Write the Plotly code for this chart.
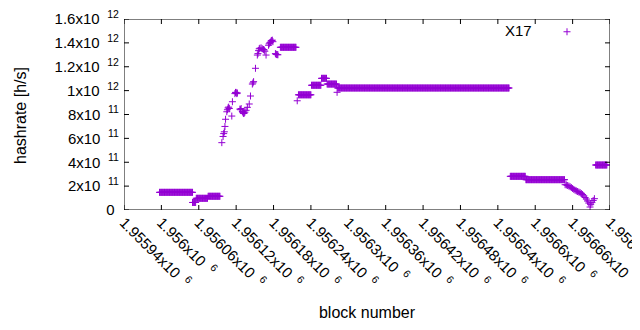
import plotly.graph_objects as go

COLOR = "#9400D3"

# Constant runs of hashrate: first block, last block, hashrate (h/s)
run_start = [1955997, 1956050, 1956056, 1956075, 1956191, 1956220, 1956241, 1956257,
             1956266, 1956283, 1956560, 1956585, 1956697]
run_end = [1956050, 1956055, 1956074, 1956094, 1956216, 1956240, 1956256, 1956265,
           1956281, 1956558, 1956584, 1956647, 1956715]
run_rate = [1.48e11, 6.3e10, 9.8e10, 1.15e11, 1.363e12, 9.65e11, 1.045e12, 1.103e12,
            1.055e12, 1.022e12, 2.82e11, 2.54e11, 3.77e11]

# Individually placed blocks (ramp, isolated points, decline)
pt_block = [1956097, 1956099, 1956100, 1956101, 1956102, 1956103, 1956105, 1956106,
            1956107, 1956108, 1956109, 1956113, 1956114, 1956118, 1956119, 1956120,
            1956121, 1956122, 1956126, 1956127, 1956128, 1956130, 1956131, 1956132,
            1956133, 1956134, 1956136, 1956138, 1956141, 1956143, 1956146, 1956147,
            1956148, 1956151, 1956154, 1956155, 1956156, 1956157, 1956158, 1956160,
            1956162, 1956164, 1956165, 1956166, 1956168, 1956172, 1956173, 1956174,
            1956175, 1956176, 1956177, 1956178, 1956179, 1956183, 1956184, 1956185,
            1956186, 1956187,
            1956218, 1956282,
            1956648, 1956650, 1956652, 1956654, 1956656, 1956658, 1956660, 1956662,
            1956664, 1956666, 1956668, 1956670, 1956672, 1956674, 1956676, 1956678,
            1956680, 1956682, 1956684, 1956686, 1956688, 1956689, 1956691, 1956693,
            1956695]
pt_rate = [5.64e11, 6.16e11, 6.40e11, 6.55e11, 7.00e11, 7.60e11, 8.23e11, 8.40e11,
           8.55e11, 8.62e11, 8.50e11, 7.87e11, 9.07e11, 9.75e11, 9.85e11, 9.85e11,
           9.75e11, 9.80e11, 8.45e11, 8.40e11, 8.50e11, 8.25e11, 8.15e11, 8.08e11,
           8.12e11, 8.20e11, 8.35e11, 8.60e11, 8.88e11, 9.55e11, 1.055e12, 1.065e12,
           1.075e12, 1.187e12, 1.298e12, 1.310e12, 1.335e12, 1.350e12, 1.355e12, 1.358e12,
           1.350e12, 1.345e12, 1.340e12, 1.330e12, 1.298e12, 1.380e12, 1.392e12, 1.400e12,
           1.405e12, 1.415e12, 1.420e12, 1.423e12, 1.410e12, 1.310e12, 1.305e12, 1.302e12,
           1.302e12, 1.300e12,
           9.15e11, 9.86e11,
           2.12e11, 2.10e11, 2.05e11, 2.00e11, 1.95e11, 1.88e11, 1.80e11, 1.72e11,
           1.65e11, 1.60e11, 1.55e11, 1.50e11, 1.46e11, 1.38e11, 1.30e11, 1.18e11,
           1.05e11, 9.2e10, 7.5e10, 5.8e10, 2.5e10, 4.5e10, 6.2e10, 8.0e10,
           9.5e10]

x_range = [1955940, 1956720]
y_range = [0, 1.6e12]
x_tick_vals = [1955940, 1956000, 1956060, 1956120, 1956180, 1956240, 1956300,
               1956360, 1956420, 1956480, 1956540, 1956600, 1956660, 1956720]
x_tick_mant = ["1.95594", "1.956", "1.95606", "1.95612", "1.95618", "1.95624", "1.9563",
               "1.95636", "1.95642", "1.95648", "1.95654", "1.9566", "1.95666", "1.95672"]
y_tick_vals = [0, 2e11, 4e11, 6e11, 8e11, 1e12, 1.2e12, 1.4e12, 1.6e12]
y_tick_mant = ["0", "2", "4", "6", "8", "1", "1.2", "1.4", "1.6"]
y_tick_exp = ["", "11", "11", "11", "11", "12", "12", "12", "12"]

SP = "&#8194;"  # en space between mantissa and exponent, as gnuplot draws it
y_tick_text = [m + "&nbsp;&nbsp;" if not e else m + "x10" + SP + "<sup>" + e + "</sup>&nbsp;"
               for m, e in zip(y_tick_mant, y_tick_exp)]
x_tick_text = [m + "x10" + SP + "<sup>6</sup>" for m in x_tick_mant]

blocks, rates = [], []
for s, e, v in zip(run_start, run_end, run_rate):
    for b in range(s, e + 1):
        blocks.append(b)
        rates.append(v)
blocks += pt_block
rates += pt_rate

FONT = "Liberation Sans, Arial, sans-serif"

# page body has an 8px default margin -> shift figure accordingly
W, H = 632, 322
L, T = 116, 11
PW, PH = 486, 191
TICK_PX = 5

# border frame and inward mirrored ticks (gnuplot style), built from axis ranges/ticks
x0, x1 = x_range
y0, y1 = y_range
dx = TICK_PX / PW * (x1 - x0)
dy = TICK_PX / PH * (y1 - y0)
fx = [x0, x1, x1, x0, x0, None]
fy = [y0, y0, y1, y1, y0, None]
for xv in x_tick_vals:
    fx += [xv, xv, None, xv, xv, None]
    fy += [y0, y0 + dy, None, y1, y1 - dy, None]
for yv in y_tick_vals:
    fx += [x0, x0 + dx, None, x1, x1 - dx, None]
    fy += [yv, yv, None, yv, yv, None]

fig = go.Figure()
fig.add_trace(go.Scatter(
    x=blocks, y=rates, mode="markers", name=" ",
    marker=dict(symbol="cross-thin", size=5, color=COLOR,
                line=dict(width=1, color=COLOR)),
    showlegend=True,
))
fig.add_trace(go.Scatter(
    x=fx, y=fy, mode="lines", line=dict(color="black", width=1),
    showlegend=False, hoverinfo="skip", cliponaxis=False,
))

fig.update_layout(
    width=W, height=H,
    margin=dict(l=L, r=W - L - PW, t=T, b=H - T - PH, autoexpand=False),
    paper_bgcolor="white", plot_bgcolor="white",
    font=dict(family=FONT, size=15, color="black"),
    showlegend=True,
    legend=dict(x=(547 - 124) / PW, xanchor="left", y=(210 - 32) / PH, yanchor="middle",
                bgcolor="rgba(0,0,0,0)", borderwidth=0,
                font=dict(size=15), itemwidth=30),
    xaxis=dict(
        range=x_range, tickmode="array", tickvals=x_tick_vals,
        ticktext=x_tick_text, ticklabeloverflow="allow",
        tickangle=45, ticks="", showline=False,
        showgrid=False, zeroline=False, automargin=False,
        title=dict(text="block number", font=dict(size=16), standoff=16),
    ),
    yaxis=dict(
        range=y_range, tickmode="array", tickvals=y_tick_vals, ticktext=y_tick_text,
        ticklabeloverflow="allow", ticks="", showline=False,
        showgrid=False, zeroline=False, automargin=False,
    ),
    annotations=[
        dict(text="X17", xref="paper", yref="paper", x=(534 - 124) / PW,
             y=(210 - 31) / PH, xanchor="right", yanchor="middle",
             showarrow=False, font=dict(size=15, color="black")),
        dict(text="hashrate [h/s]", xref="paper", yref="paper", x=(20 - 124) / PW,
             y=(210 - 116) / PH, xanchor="center", yanchor="middle", textangle=-90,
             showarrow=False, font=dict(size=16, color="black")),
    ],
)

fig.write_html("out.html")
